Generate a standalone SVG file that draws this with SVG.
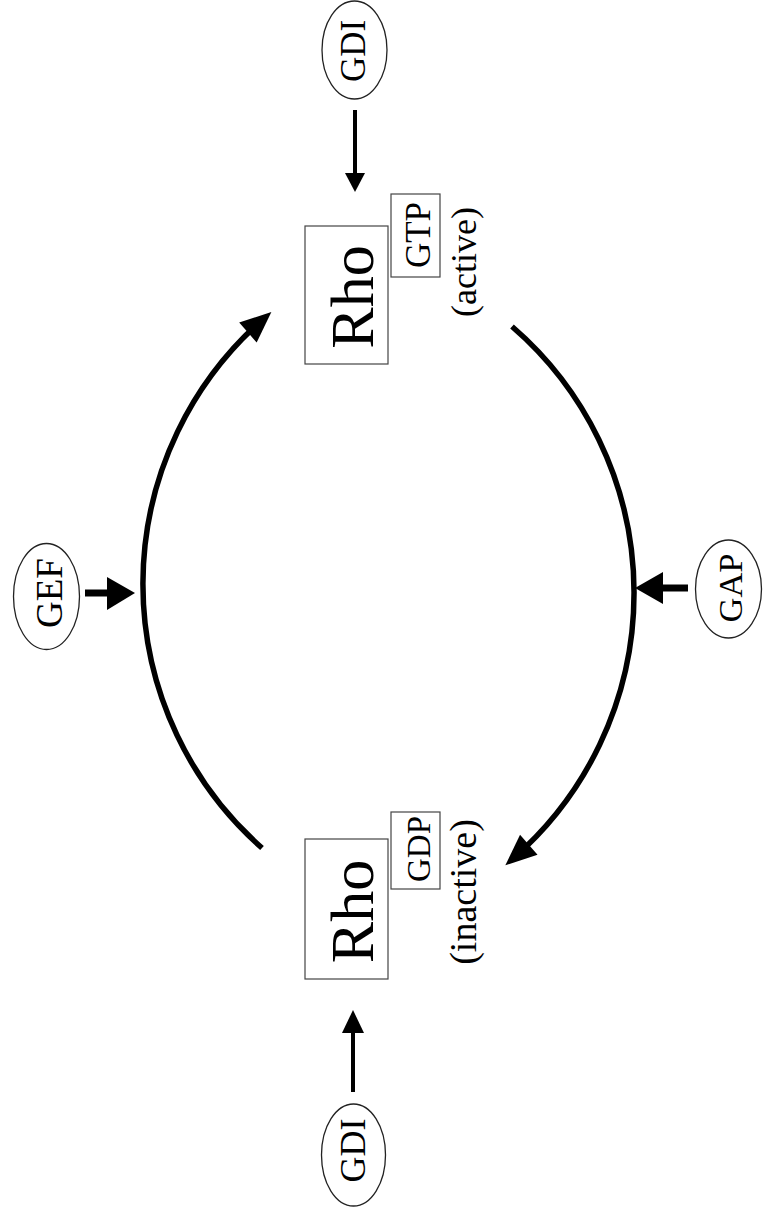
<svg xmlns="http://www.w3.org/2000/svg" width="764" height="1207" viewBox="0 0 764 1207">
  <style>
    .lbl { font-family: "Liberation Serif", "Times New Roman", serif; fill: #000; text-anchor: middle; }
    .oval { fill: none; stroke: #222; stroke-width: 1.3; }
    .box { fill: none; stroke: #444; stroke-width: 1.2; }
    .cycle { fill: none; stroke: #000; stroke-width: 5.5; }
    .head { fill: #000; }
    .stem { stroke: #000; fill: none; }
  </style>
  <defs>
    <marker id="bigHead" markerUnits="userSpaceOnUse" markerWidth="44" markerHeight="40" viewBox="-34 -17 48 34" refX="0" refY="0" orient="auto">
      <path d="M12,0 L-22,-14.5 L-22,14.5 Z" fill="#000"/>
    </marker>
  </defs>
  <rect width="764" height="1207" fill="#fff"/>

  <!-- GTPase cycle connectors -->
  <g id="connectors">
    <!-- activation arc (GDP -> GTP) -->
    <path class="cycle" d="M262,848 A352,352 0 0 1 263.1,319.2" marker-end="url(#bigHead)"/>
    <!-- inactivation arc (GTP -> GDP) -->
    <path class="cycle" d="M512,326.5 A352,352 0 0 1 513.6,858.1" marker-end="url(#bigHead)"/>
    <!-- GDI (top) -->
    <line class="stem" x1="355" y1="110" x2="355" y2="175" stroke-width="4"/>
    <polygon class="head" points="345,173 365,173 355,192"/>
    <!-- GDI (bottom) -->
    <line class="stem" x1="353" y1="1092" x2="353" y2="1031" stroke-width="4"/>
    <polygon class="head" points="342,1033 364,1033 353,1010"/>
    <!-- GEF -->
    <line class="stem" x1="85" y1="593" x2="109" y2="593" stroke-width="7"/>
    <polygon class="head" points="107,577 107,610 135,593"/>
    <!-- GAP -->
    <line class="stem" x1="688" y1="588" x2="661" y2="588" stroke-width="7"/>
    <polygon class="head" points="663,572 663,604 635,588"/>
  </g>

  <g id="gdi-top">
    <ellipse class="oval" cx="354.5" cy="50" rx="32.5" ry="49"/>
    <text class="lbl" font-size="35" transform="translate(365,51) rotate(-90)">GDI</text>
  </g>

  <g id="rho-gtp">
    <rect class="box" x="305" y="226" width="83" height="138"/>
    <text class="lbl" font-size="62" transform="translate(373,297) rotate(-90)">Rho</text>
    <rect class="box" x="391" y="194" width="49" height="83"/>
    <text class="lbl" font-size="35" transform="translate(430,235) rotate(-90)">GTP</text>
    <text class="lbl" font-size="36" transform="translate(476,262) rotate(-90)">(active)</text>
  </g>

  <g id="gef">
    <ellipse class="oval" cx="46.5" cy="596.5" rx="33" ry="53"/>
    <text class="lbl" font-size="37" transform="translate(62,593) rotate(-90)">GEF</text>
  </g>

  <g id="gap">
    <ellipse class="oval" cx="728.5" cy="589" rx="33" ry="49"/>
    <text class="lbl" font-size="34.5" transform="translate(742,588) rotate(-90)">GAP</text>
  </g>

  <g id="rho-gdp">
    <rect class="box" x="305" y="839" width="83" height="140"/>
    <text class="lbl" font-size="62" transform="translate(373,911.5) rotate(-90)">Rho</text>
    <rect class="box" x="391" y="812" width="49" height="77"/>
    <text class="lbl" font-size="33" transform="translate(430,849) rotate(-90)">GDP</text>
    <text class="lbl" font-size="38" transform="translate(476,892) rotate(-90)">(inactive)</text>
  </g>

  <g id="gdi-bottom">
    <ellipse class="oval" cx="353.5" cy="1155" rx="32" ry="51"/>
    <text class="lbl" font-size="36" transform="translate(365,1150.5) rotate(-90)">GDI</text>
  </g>
</svg>
